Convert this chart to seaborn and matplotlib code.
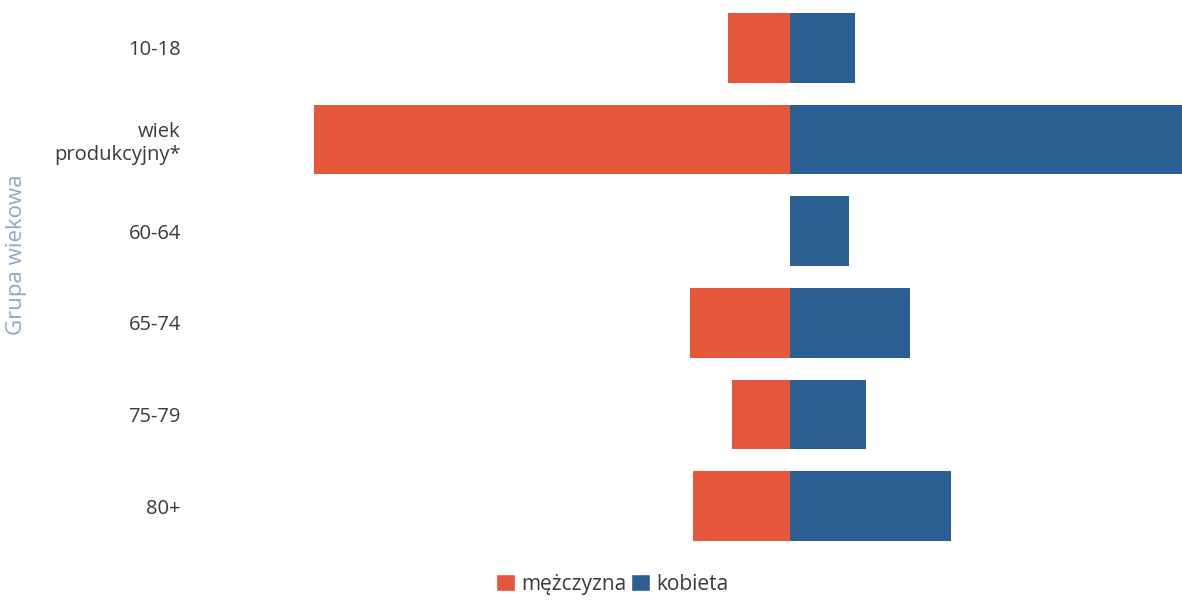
import matplotlib
matplotlib.use("Agg")
import matplotlib.pyplot as plt
import seaborn as sns
import pandas as pd
from matplotlib.patches import Patch

categories = ["10-18", "wiek\nprodukcyjny*", "60-64", "65-74", "75-79", "80+"]
men = [62, 476, 0, 100, 58, 97]
women = [65, 400, 59, 120, 76, 161]
series_names = ["mężczyzna", "kobieta"]

sns.set_theme(style="white")
plt.rcParams['font.family'] = ['Open Sans', 'DejaVu Sans']

c_men = "#E4573A"
c_women = "#2B5F93"

df = pd.DataFrame({
    "grupa": categories * 2,
    "value": [-v for v in men] + women,
    "plec": [series_names[0]] * len(categories) + [series_names[1]] * len(categories),
})

fig = plt.figure(figsize=(11.82, 6.01), dpi=100)
ax = fig.add_axes([0.16, 0.0815, 0.84, 0.915])
sns.barplot(data=df, y="grupa", x="value", hue="plec", orient="h", dodge=False,
            palette=[c_men, c_women], width=0.76, ax=ax, legend=False,
            order=categories, hue_order=series_names, saturation=1, linewidth=0)
ax.set_xlim(-601, 392)
ax.set_ylim(5.5, -0.5)
ax.set_xticks([])
ax.set_xlabel("")
ax.set_ylabel("Grupa wiekowa", color="#8FA8C8", fontsize=16)
ax.yaxis.set_label_coords(-0.163, 0.54, transform=ax.transAxes)
ax.tick_params(axis="y", length=0, labelsize=14.5, labelcolor="#3a3a3a", pad=6)
for lab in ax.get_yticklabels():
    lab.set_horizontalalignment("right")
    lab.set_multialignment("right")
for s in ax.spines.values():
    s.set_visible(False)

handles = [Patch(facecolor=c_men, label=series_names[0]),
           Patch(facecolor=c_women, label=series_names[1])]
fig.legend(handles=handles, loc="center", bbox_to_anchor=(0.518, 0.028), ncol=2,
           frameon=False, fontsize=15, handlelength=0.9, handleheight=0.9,
           handletextpad=0.3, columnspacing=0.2, labelcolor="#3a3a3a")

fig.savefig("out.png", dpi=100, facecolor="white")
